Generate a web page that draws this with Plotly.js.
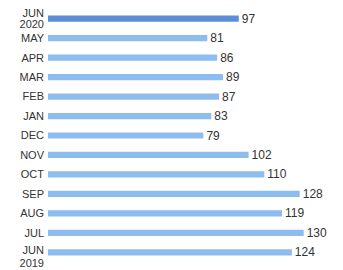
<!DOCTYPE html>
<html><head><meta charset="utf-8">
<script src="https://cdn.plot.ly/plotly-3.0.1.min.js"></script>
<style>html,body{margin:0;padding:0;background:#fff;}#chart{width:343px;height:270px;}</style>
</head><body><div id="chart"></div>
<script>
const categories = ["JUN 2019","JUL","AUG","SEP","OCT","NOV","DEC","JAN","FEB","MAR","APR","MAY","JUN 2020"];
const monthLabels = ["JUN","JUL","AUG","SEP","OCT","NOV","DEC","JAN","FEB","MAR","APR","MAY","JUN"];
const yearLabels = ["2019","","","","","","","","","","","","2020"];
const values = [124,130,119,128,110,102,79,83,87,89,86,81,97];
const colors = categories.map((c,i)=> i===categories.length-1 ? "#5a8ed8" : "#8dbdee");

const lblFont = {family: "Liberation Sans, Arial, sans-serif", size: 11, color: "#333"};
function axisCfg(vals, texts, shift, extra) {
  return Object.assign({
    type: "category", categoryarray: categories, categoryorder: "array",
    range: [-0.5, categories.length - 0.5],
    tickmode: "array", tickvals: vals, ticktext: texts,
    ticklabelshift: shift, ticklabelstandoff: 3,
    showgrid: false, zeroline: false, showline: false, ticks: "",
    tickfont: lblFont, fixedrange: true, automargin: false
  }, extra || {});
}
const singleIdx = categories.map((c,i)=>i).filter(i=>yearLabels[i]==="");
const first = 0, last = categories.length - 1;

// invisible helper traces so the overlay label axes get drawn
function helper(axis) {
  return {type: "scatter", mode: "markers", x: values, y: categories, yaxis: axis,
    marker: {opacity: 0, size: 1}, hoverinfo: "none", showlegend: false};
}

Plotly.newPlot("chart", [{
  type: "bar",
  orientation: "h",
  y: categories,
  x: values,
  text: values.map(String),
  textposition: "outside",
  constraintext: "none",
  cliponaxis: false,
  textfont: {family: "Liberation Sans, Arial, sans-serif", size: 12, color: "#333"},
  marker: {color: colors},
  hoverinfo: "none"
}, helper("y2"), helper("y3"), helper("y4"), helper("y5")], {
  width: 343, height: 270,
  margin: {l: 48, r: 0, t: 9, b: 8},
  bargap: 0.68,
  paper_bgcolor: "#fff", plot_bgcolor: "#fff",
  showlegend: false,
  xaxis: {range: [0, 150], visible: false, fixedrange: true},
  yaxis: axisCfg(singleIdx.map(i=>categories[i]), singleIdx.map(i=>monthLabels[i]), 0),
  yaxis2: axisCfg([categories[last]], [monthLabels[last]], -6, {overlaying: "y", side: "left", anchor: "x"}),
  yaxis3: axisCfg([categories[last]], [yearLabels[last]], 5, {overlaying: "y", side: "left", anchor: "x"}),
  yaxis4: axisCfg([categories[first]], [monthLabels[first]], -2, {overlaying: "y", side: "left", anchor: "x"}),
  yaxis5: axisCfg([categories[first]], [yearLabels[first]], 11, {overlaying: "y", side: "left", anchor: "x"})
}, {staticPlot: true, displayModeBar: false});
</script></body></html>
